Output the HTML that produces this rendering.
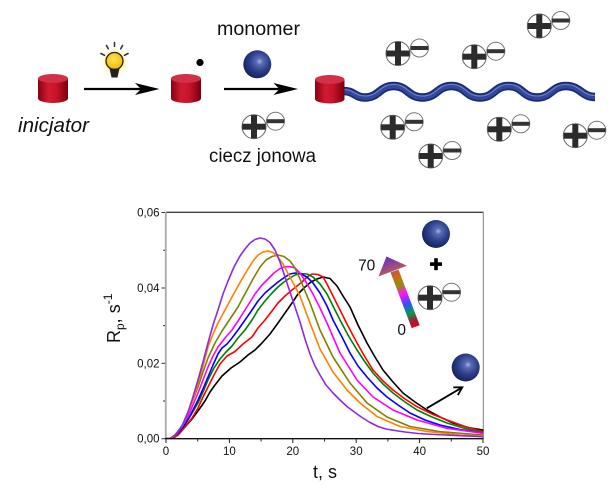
<!DOCTYPE html>
<html>
<head>
<meta charset="utf-8">
<style>
  html,body{margin:0;padding:0;background:#fff;}
  svg{display:block;}
  text{font-family:"Liberation Sans", Arial, sans-serif;}
</style>
</head>
<body>
<svg width="613" height="485" viewBox="0 0 613 485" xmlns="http://www.w3.org/2000/svg">
  <defs>
    <linearGradient id="cylBody" x1="0" y1="0" x2="1" y2="0">
      <stop offset="0" stop-color="#8a0014"/>
      <stop offset="0.35" stop-color="#d01a32"/>
      <stop offset="0.6" stop-color="#c8142a"/>
      <stop offset="1" stop-color="#780010"/>
    </linearGradient>
    <radialGradient id="sph" cx="0.58" cy="0.4" r="0.62">
      <stop offset="0" stop-color="#aab4e0"/>
      <stop offset="0.18" stop-color="#5a6cb4"/>
      <stop offset="0.6" stop-color="#2b3c88"/>
      <stop offset="1" stop-color="#17225a"/>
    </radialGradient>
    <radialGradient id="glow" cx="0.5" cy="0.5" r="0.5">
      <stop offset="0" stop-color="#fff176" stop-opacity="0.9"/>
      <stop offset="0.6" stop-color="#fff59d" stop-opacity="0.6"/>
      <stop offset="1" stop-color="#ffffff" stop-opacity="0"/>
    </radialGradient>
    <radialGradient id="bulbFill" cx="0.45" cy="0.4" r="0.6">
      <stop offset="0" stop-color="#ffe45a"/>
      <stop offset="1" stop-color="#f5b800"/>
    </radialGradient>
    <linearGradient id="rainbow" gradientUnits="userSpaceOnUse" x1="416" y1="327" x2="387" y2="258">
      <stop offset="0" stop-color="#e00010"/>
      <stop offset="0.1" stop-color="#a02040"/>
      <stop offset="0.2" stop-color="#00a050"/>
      <stop offset="0.33" stop-color="#3050ff"/>
      <stop offset="0.47" stop-color="#ff10ff"/>
      <stop offset="0.6" stop-color="#909010"/>
      <stop offset="0.72" stop-color="#d06a10"/>
      <stop offset="0.85" stop-color="#a05080"/>
      <stop offset="1" stop-color="#6a30c0"/>
    </linearGradient>
    <g id="ion">
      <circle cx="0" cy="0" r="12" fill="#fff" stroke="#666" stroke-width="1"/>
      <rect x="-11.6" y="-3" width="23.2" height="6" fill="#2b2b2b"/>
      <rect x="-3" y="-11.6" width="6" height="23.2" fill="#2b2b2b"/>
      <circle cx="21.5" cy="-5.5" r="9" fill="#fff" stroke="#777" stroke-width="1"/>
      <rect x="12.7" y="-7.5" width="17.6" height="4" fill="#333"/>
    </g>
    <clipPath id="plotClip">
      <rect x="166" y="212" width="317.5" height="227"/>
    </clipPath>
  </defs>

  <rect width="613" height="485" fill="#fff"/>

  <!-- ===== TOP SCHEME ===== -->
  <path d="M38,78.5 L38,98.5 A15,4.5 0 0 0 68,98.5 L68,78.5 Z" fill="url(#cylBody)"/>
  <ellipse cx="53" cy="78.5" rx="15" ry="4.5" fill="#d23048"/>
  <text x="18" y="132" font-size="20" font-style="italic" fill="#111" textLength="71" lengthAdjust="spacingAndGlyphs">inicjator</text>

  <line x1="84" y1="89" x2="142" y2="89" stroke="#000" stroke-width="2.2"/>
  <path d="M159.5,89 L135,83 L141,89 L135,95 Z" fill="#000"/>

  <circle cx="114.5" cy="62" r="17" fill="url(#glow)"/>
  <circle cx="114.5" cy="61" r="8.5" fill="url(#bulbFill)" stroke="#222" stroke-width="1.3"/>
  <path d="M109.5,68.5 L119.5,68.5 L117.5,77.5 L111.5,77.5 Z" fill="#222"/>
  <g stroke="#333" stroke-width="1.6" stroke-linecap="round">
    <line x1="101" y1="53.5" x2="104.5" y2="55.3"/>
    <line x1="106.5" y1="45.5" x2="108.3" y2="48.8"/>
    <line x1="114.5" y1="42.5" x2="114.5" y2="46.3"/>
    <line x1="122.5" y1="45.5" x2="120.7" y2="48.8"/>
    <line x1="128" y1="53.5" x2="124.5" y2="55.3"/>
  </g>

  <path d="M171,78.5 L171,98.5 A15,4.5 0 0 0 201,98.5 L201,78.5 Z" fill="url(#cylBody)"/>
  <ellipse cx="186" cy="78.5" rx="15" ry="4.5" fill="#d23048"/>
  <circle cx="200" cy="62.5" r="3.6" fill="#000"/>

  <text x="217" y="35" font-size="19.5" fill="#111" textLength="83" lengthAdjust="spacingAndGlyphs">monomer</text>
  <circle cx="257.3" cy="64.3" r="14" fill="url(#sph)"/>

  <line x1="224" y1="89" x2="281" y2="89" stroke="#000" stroke-width="2.2"/>
  <path d="M298,89 L273.5,83 L279.5,89 L273.5,95 Z" fill="#000"/>

  <use href="#ion" x="254" y="126.7"/>
  <text x="209" y="162" font-size="19" fill="#111" textLength="107" lengthAdjust="spacingAndGlyphs">ciecz jonowa</text>

  <path d="M344,91 C354,91 355,97.5 365,97.5 C379,97.5 379.5,86 393.5,86 C408,86 408,97.5 422.5,97.5 C437,97.5 437,86 451.5,86 C465.5,86 466,97.5 480,97.5 C494.5,97.5 494,86 508.5,86 C523,86 522.5,97.5 537,97.5 C551.5,97.5 551.5,86 566,86 C580,86 582,97 595,97"
        fill="none" stroke="#1c2b74" stroke-width="8.5" stroke-linecap="butt"/>
  <path d="M344,91 C354,91 355,97.5 365,97.5 C379,97.5 379.5,86 393.5,86 C408,86 408,97.5 422.5,97.5 C437,97.5 437,86 451.5,86 C465.5,86 466,97.5 480,97.5 C494.5,97.5 494,86 508.5,86 C523,86 522.5,97.5 537,97.5 C551.5,97.5 551.5,86 566,86 C580,86 582,97 595,97"
        fill="none" stroke="#33479c" stroke-width="5"/>
  <path d="M344,89.5 C354,89.5 355,96 365,96 C379,96 379.5,84.5 393.5,84.5 C408,84.5 408,96 422.5,96 C437,96 437,84.5 451.5,84.5 C465.5,84.5 466,96 480,96 C494.5,96 494,84.5 508.5,84.5 C523,84.5 522.5,96 537,96 C551.5,96 551.5,84.5 566,84.5 C580,84.5 582,95.5 595,95.5"
        fill="none" stroke="#7f90d4" stroke-width="1.1" opacity="0.8"/>
  <path d="M315,79.5 L315,99 A14.75,4.5 0 0 0 344.5,99 L344.5,79.5 Z" fill="url(#cylBody)"/>
  <ellipse cx="329.75" cy="79.5" rx="14.75" ry="4.5" fill="#d23048"/>

  <use href="#ion" x="398" y="53.5"/>
  <use href="#ion" x="474.3" y="56.7"/>
  <use href="#ion" x="539.3" y="26"/>
  <use href="#ion" x="392.7" y="127.3"/>
  <use href="#ion" x="499.3" y="129.3"/>
  <use href="#ion" x="430.7" y="156"/>
  <use href="#ion" x="575.3" y="135.7"/>

  <!-- ===== PLOT ===== -->
  <line x1="166" y1="212.3" x2="483.5" y2="212.3" stroke="#444" stroke-width="1.3"/>
  <line x1="483.3" y1="212.3" x2="483.3" y2="438.7" stroke="#888" stroke-width="1.1"/>
  <line x1="165.8" y1="212" x2="165.8" y2="439.5" stroke="#aaa" stroke-width="1.8"/>

  <g stroke="#333" stroke-width="1">
    <line x1="161.5" y1="212.5" x2="165" y2="212.5"/>
    <line x1="161.5" y1="288" x2="165" y2="288"/>
    <line x1="161.5" y1="363.3" x2="165" y2="363.3"/>
    <line x1="161.5" y1="438.7" x2="165" y2="438.7"/>
    <line x1="163" y1="250.2" x2="165" y2="250.2"/>
    <line x1="163" y1="325.6" x2="165" y2="325.6"/>
    <line x1="163" y1="401" x2="165" y2="401"/>
  </g>
  <g font-size="11.5" fill="#111" text-anchor="end">
    <text x="159.5" y="216.5">0,06</text>
    <text x="159.5" y="292">0,04</text>
    <text x="159.5" y="367.3">0,02</text>
    <text x="159.5" y="442.7">0,00</text>
  </g>

  <g clip-path="url(#plotClip)" fill="none" stroke-width="1.6" stroke-linejoin="round" stroke-linecap="round">
    <polyline stroke="#000000" points="166,438.7 172,438.7 178,435 185,427 192,419 198,411 205,401 210,392 215,385 222,376 231,368 240,362 248,355 255,350 262,343 270,334 278,323 285,313 292,303 298,294 305,287 311,282 317,279 323,277 330,278.5 337,286 343,296 350,307 358,325 367,343 375,357 383,370 393,382 403,393 415,402 427,410 440,417 453,423 468,427.5 483,430"/>
    <polyline stroke="#ff0000" points="166,438.7 173,438.5 179,434 185,427 192,418 198,408 203,397 208,387 214,375 220,364 227,356 235,351.5 243,344 252,337 258,328 265,320 272,311 278,303 285,296 292,290 297,286 302,282 307,277 312,274 318,274.5 323,277 327,284 333,296 340,310 348,326 357,343 365,357 373,370 383,381 393,390 405,399 417,406.7 432,414 447,420 465,426.5 483,431.7"/>
    <polyline stroke="#008000" points="166,438.7 172,438 178,433 184,426.5 191,415 198,403 203,392 208,380 214,368 220,359 226,352 232,346 238,338 245,330 252,320 258,310 265,301 272,293 278,287 284,282 290,278 295,275 300,273.5 307,274 313,277 320,284 327,294 333,306 340,320 348,335 357,350 365,362 373,373 383,384 393,393 405,402 417,410 432,417 447,423 465,428.5 483,432.7"/>
    <polyline stroke="#0000ff" points="166,438.7 172,438 178,433 184,426 191,414 198,400 203,389 208,377 213,365 218,354 222,348 227,344 232,338 238,330 245,320 252,310 258,301 265,293 272,287 278,282 285,277 290,274 295,273 301,274 307,277 313,283 320,293 327,306 333,320 342,337 350,353 358,366 367,377 377,388 387,397 398,405 410,413 425,420 440,425 460,429.5 483,433.3"/>
    <polyline stroke="#ff00ff" points="166,438.7 172,438 177,433 183,425 190,412 198,393 203,380 208,367 213,356 218,347 225,338 232,330 238,321 245,310 250,302 255,294 262,285 268,279 274,273 280,268.5 285,266.7 290,266.7 295,268 300,273 306,282 313,294 320,308 327,323 340,353 357,380 373,397 393,410 417,420 447,428.3 483,433.3"/>
    <polyline stroke="#808000" points="166,438.7 172,438 177,433 183,424 190,408 198,387 203,372 208,358 215,343 222,331 230,319 238,307 246,292 253,279 260,267 266,260 272,256.5 278,255 284,256.5 290,261 295,268 300,279 310,303 320,330 333,357 350,383 367,403 387,417 410,426.5 440,431.7 483,435"/>
    <polyline stroke="#ff8000" points="166,438.7 170,438.5 175,435 182,426.5 190,408 197,387 203,366 208,347 213,334 218,323 225,310 232,297 237,288 242,279 248,269 253,261 258,255 263,252 268,251 273,252.5 278,257 283,264 291,279 300,296 310,323 320,349 333,372 347,390 360,403 377,416.5 400,426.5 427,431.5 460,435 483,436"/>
    <polyline stroke="#8a2be2" points="166,438.7 170,438.5 175,435 182,426 188,412 192,400 198,380 203,362 208,343 213,325 218,310 223,294 228,281 234,267 240,256 245,249 250,243 255,239.5 260,238 265,239 270,242.5 275,250 280,262 285,277 290,292 295,307 300,322 305,339 310,354 315,366 320,375 326,385 333,393 340,400 347,406.5 355,412.5 362,417.5 370,422.5 378,426.5 386,429 395,430.5 405,432 418,433.5 435,434.5 455,435.5 483,436.7"/>
  </g>

  <line x1="165" y1="438.7" x2="483.5" y2="438.7" stroke="#111" stroke-width="1.4"/>
  <g stroke="#222" stroke-width="1">
    <line x1="166" y1="439" x2="166" y2="443"/>
    <line x1="229.4" y1="439" x2="229.4" y2="443"/>
    <line x1="292.8" y1="439" x2="292.8" y2="443"/>
    <line x1="356.2" y1="439" x2="356.2" y2="443"/>
    <line x1="419.6" y1="439" x2="419.6" y2="443"/>
    <line x1="483" y1="439" x2="483" y2="443"/>
    <line x1="197.7" y1="439" x2="197.7" y2="441.5"/>
    <line x1="261.1" y1="439" x2="261.1" y2="441.5"/>
    <line x1="324.5" y1="439" x2="324.5" y2="441.5"/>
    <line x1="387.9" y1="439" x2="387.9" y2="441.5"/>
    <line x1="451.3" y1="439" x2="451.3" y2="441.5"/>
  </g>
  <g font-size="11.5" fill="#111" text-anchor="middle">
    <text x="166" y="455">0</text>
    <text x="229.4" y="455">10</text>
    <text x="292.8" y="455">20</text>
    <text x="356.2" y="455">30</text>
    <text x="419.6" y="455">40</text>
    <text x="483" y="455">50</text>
  </g>

  <text x="325" y="478" font-size="18" fill="#111" text-anchor="middle">t, s</text>
  <text transform="translate(120,343) rotate(-90)" font-size="18" fill="#111">R<tspan font-size="12" dy="4">p</tspan><tspan dy="-4">, s</tspan><tspan font-size="12" dy="-8">-1</tspan></text>

  <circle cx="436" cy="234" r="14" fill="url(#sph)"/>
  <rect x="430" y="262.3" width="12" height="3.6" fill="#000"/>
  <rect x="434.2" y="258.2" width="3.6" height="12" fill="#000"/>
  <use href="#ion" x="430" y="297.7"/>

  <polygon points="419.7,325.3 411.7,328.1 390.5,272.4 398.5,269.6" fill="url(#rainbow)"/>
  <polygon points="378.5,276.5 407,265.8 386.5,256.5" fill="url(#rainbow)"/>
  <text x="366.7" y="270.5" font-size="15.5" fill="#111" text-anchor="middle">70</text>
  <text x="401.7" y="335" font-size="15.5" fill="#111" text-anchor="middle">0</text>

  <circle cx="465.7" cy="367.5" r="14" fill="url(#sph)"/>
  <line x1="426.7" y1="408.3" x2="461.5" y2="387.8" stroke="#000" stroke-width="1.8"/>
  <polyline points="453.3,387.4 462.3,387.3 457.9,395.1" fill="none" stroke="#000" stroke-width="1.8" stroke-linejoin="miter"/>
</svg>
</body>
</html>
